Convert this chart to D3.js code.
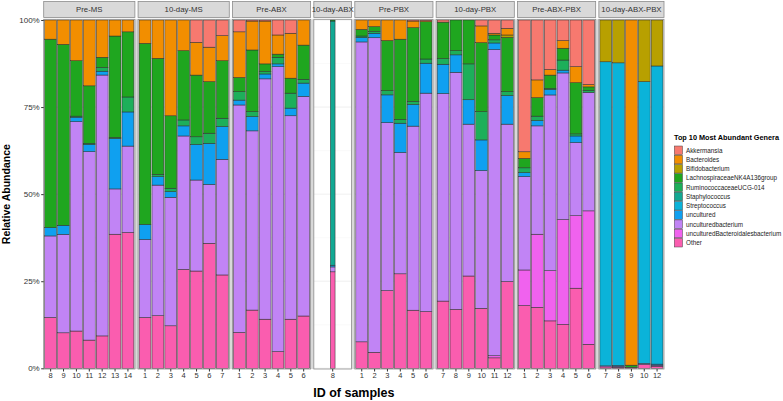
<!DOCTYPE html>
<html>
<head>
<meta charset="utf-8">
<script src="https://cdn.jsdelivr.net/npm/d3@7"></script>
<style>
  body { margin: 0; background: #fff; }
  text { font-family: "Liberation Sans", Arial, sans-serif; }
</style>
</head>
<body>
<script>
// facets and the sample ids inside each one
var groups = ["Pre-MS", "10-day-MS", "Pre-ABX", "10-day-ABX", "Pre-PBX", "10-day-PBX", "Pre-ABX-PBX", "10-day-ABX-PBX"];
var sampleIds = [
  [8, 9, 10, 11, 12, 13, 14],
  [1, 2, 3, 4, 5, 6, 7],
  [1, 2, 3, 4, 5, 6],
  [8],
  [1, 2, 3, 4, 5, 6],
  [7, 8, 9, 10, 11, 12],
  [1, 2, 3, 4, 5, 6],
  [7, 8, 9, 10, 12]
];

var genera = ["Akkermansia", "Bacteroides", "Bifidobacterium", "LachnospiraceaeNK4A136group",
  "RuminococcaceaeUCG-014", "Staphylococcus", "Streptococcus", "uncultured",
  "unculturedbacterium", "unculturedBacteroidalesbacterium", "Other"];
var generaColors = ["#F7796F", "#F28E00", "#B8A000", "#1FA61F", "#1DAF5A", "#12A893",
  "#0BB3D9", "#0FA0F0", "#C184F5", "#F062EE", "#FA5DAF"];

// relative abundance (%) per sample, samples in facet order
//                Pre-MS                              10-day-MS                            Pre-ABX                        10dABX Pre-PBX                       10-day-PBX                      Pre-ABX-PBX                       10-day-ABX-PBX
var akkermansia = [0, 0, 0, 0, 0, 0, 0,               0, 0, 0, 0, 6.4, 7.8, 4.5,             3.4, 0.3, 0.3, 4.3, 3.8, 0,    0,    0, 0, 0, 0, 0.3, 0.2,         0.6, 0, 0, 1.7, 3.8, 2.4,       37.8, 17.2, 14.2, 5.9, 13.4, 18.5, 0, 0, 0, 0, 0];
var bacteroides = [5.5, 7.0, 11.7, 18.9, 10.7, 4.6, 3.4, 6.7, 11.0, 27.5, 8.8, 9.4, 9.9, 7.2, 13.1, 8.3, 12.3, 5.5, 12.9, 7.2, 0, 2.7, 1.9, 5.9, 5.5, 1.9, 0.3, 0, 0, 0, 4.8, 0.5, 1.9,   1.9, 5.1, 1.6, 2.2, 4.6, 0.7,   0, 0, 99.1, 0, 0];
var bifidobacterium = [0, 0, 0, 0, 0, 0, 0,           0, 0, 0, 0, 0, 0, 0,                   0, 0, 0, 0, 0, 0,              0,    0, 0, 0, 0, 0, 0,             0, 0, 0, 0, 0, 0.7,             0, 0, 0, 0, 0, 0,                 12.0, 12.3, 0, 17.7, 13.2];
var lachnospiraceae = [54.1, 52.0, 15.9, 16.5, 2.9, 29.1, 18.7, 52.0, 33.3, 20.8, 19.9, 17.7, 14.8, 16.5, 4.1, 17.7, 2.2, 0.9, 4.3, 9.8, 0.3, 1.9, 1.4, 14.4, 23.0, 21.2, 10.7, 10.5, 8.8, 12.6, 19.8, 1.4, 15.6, 2.7, 5.3, 3.8, 3.4, 14.7, 1.0, 0, 0, 0.6, 0, 0];
var ruminococcaceae = [0, 0, 0.3, 0.3, 1.1, 0.3, 4.3, 0, 0.7, 1.0, 1.7, 2.2, 2.9, 2.4,    2.4, 1.4, 0.7, 1.9, 4.3, 1.1,  0,    0.4, 0.5, 1.2, 1.1, 0.9, 1.2,   1.6, 1.2, 10.3, 8.1, 0.9, 1.1,  1.4, 1.3, 0.3, 2.9, 0.6, 0.6,     0, 0, 0, 0, 0];
var staphylococcus = [0, 0, 0, 0, 0, 0, 0,            0, 0, 0, 0, 0, 0, 0,                   0, 0, 0, 0, 0, 0,              70.1, 0, 0, 0, 0, 0, 0,             0, 0, 0, 0, 0, 0,               0, 0, 0, 0, 0, 0,                 0, 0, 0, 0, 0];
var streptococcus = [0, 0, 0, 0, 0, 0, 0,             0, 0, 0, 0, 0, 0, 0,                   0, 0, 0, 0, 0, 0,              0,    0, 0, 0, 0, 0, 0,             0, 0, 0, 0, 0, 0,               0, 0, 0, 0, 0, 0,                 87.3, 86.9, 0, 80.9, 85.6];
var uncultured = [2.4, 2.6, 1.3, 2.1, 1.1, 14.5, 9.8, 4.3, 2.4, 1.6, 2.9, 10.2, 11.8, 9.4,  1.4, 4.1, 1.4, 0.8, 2.2, 3.8,  0.5,  1.3, 1.3, 8.0, 8.4, 6.2, 8.6,   8.4, 5.0, 7.0, 8.8, 1.9, 8.2,   1.1, 1.5, 1.6, 0.8, 1.9, 0,       0, 0.2, 0, 0, 0.3];
var unculturedBacterium = [23.4, 28.3, 60.1, 54.1, 74.9, 13.0, 24.8, 22.4, 37.5, 36.9, 38.3, 26.1, 16.9, 33.2, 65.3, 51.4, 69.0, 81.8, 58.4, 63.0, 1.4, 86.1, 90.3, 48.2, 34.8, 52.9, 62.7, 59.6, 68.0, 43.6, 39.5, 87.9, 45.2, 26.8, 31.1, 50.4, 42.1, 21.0, 34.0, 0.3, 0.3, 0, 0.3, 0.3];
var unculturedBacteroidales = [0, 0, 0, 0, 0, 0, 0,   0, 0, 0, 0, 0, 0, 0,                   0, 0, 0, 0, 0, 0,              0,    0, 0, 0, 0, 0, 0,             0, 0, 0, 0, 0.6, 0,             10.2, 21.0, 14.4, 30.1, 20.8, 38.3, 0, 0, 0, 0, 0];
var other = [14.6, 10.2, 10.7, 8.1, 9.3, 38.5, 39.0,  14.6, 15.1, 12.2, 28.4, 27.9, 35.9, 26.8, 10.3, 16.7, 14.1, 4.8, 14.1, 15.0, 27.7, 7.6, 4.6, 22.3, 27.1, 16.7, 16.3, 19.3, 16.9, 26.5, 17.2, 3.0, 24.9, 18.0, 17.5, 13.6, 12.6, 23.0, 6.9, 0.4, 0.3, 0.3, 1.1, 0.6];

var seriesValues = [akkermansia, bacteroides, bifidobacterium, lachnospiraceae, ruminococcaceae,
  staphylococcus, streptococcus, uncultured, unculturedBacterium, unculturedBacteroidales, other];

var yTicks = [0, 0.25, 0.5, 0.75, 1];

var width = 783, height = 401;
var plotLeft = 43.7, plotRight = 664, panelTop = 19.3, panelBottom = 369;
var gap = 3.2;

var svg = d3.select("body").append("svg")
  .attr("width", width)
  .attr("height", height);

// one row per sample
var rows = [];
var k = 0;
groups.forEach(function (g, gi) {
  sampleIds[gi].forEach(function (id) {
    var r = { group: g, id: String(id) };
    genera.forEach(function (name, j) { r[name] = seriesValues[j][k]; });
    rows.push(r);
    k++;
  });
});

// ggplot stacks the first legend entry on top
var stackKeys = genera.slice().reverse();
var series = d3.stack().keys(stackKeys).offset(d3.stackOffsetExpand)(rows);
var color = d3.scaleOrdinal().domain(genera).range(generaColors);

var y = d3.scaleLinear().domain([0, 1]).range([368.3, 20]);

// panel widths (space = "free"), the single-sample facet is a bit wider
var units = sampleIds.map(function (s) { return Math.max(s.length, 2.9); });
var unit = (plotRight - plotLeft - gap * (groups.length - 1)) / d3.sum(units);
var panels = [];
var cx = plotLeft;
groups.forEach(function (g, gi) {
  var w = units[gi] * unit;
  var xb = d3.scaleBand().domain(sampleIds[gi].map(String)).range([cx, cx + w])
    .paddingInner(0.08).paddingOuter(0.08);
  panels.push({ name: g, x0: cx, w: w, x: xb, single: sampleIds[gi].length === 1 });
  cx += w + gap;
});
var panelByName = {};
panels.forEach(function (p) { panelByName[p.name] = p; });

// grey between facets
svg.append("rect")
  .attr("x", plotLeft).attr("y", panelTop)
  .attr("width", plotRight - plotLeft).attr("height", panelBottom - panelTop)
  .attr("fill", "#d9d9d9");

var panelG = svg.selectAll("g.panel").data(panels).enter().append("g").attr("class", "panel");

panelG.append("rect")
  .attr("x", function (p) { return p.x0; }).attr("y", panelTop)
  .attr("width", function (p) { return p.w; }).attr("height", panelBottom - panelTop)
  .attr("fill", "#fff");

// minor + major grid
panelG.each(function (p) {
  var g = d3.select(this);
  g.selectAll("line.minor").data([0.125, 0.375, 0.625, 0.875]).enter().append("line")
    .attr("x1", p.x0).attr("x2", p.x0 + p.w)
    .attr("y1", function (d) { return y(d); }).attr("y2", function (d) { return y(d); })
    .attr("stroke", "#f4f4f4").attr("stroke-width", 0.5);
  g.selectAll("line.major").data(yTicks).enter().append("line")
    .attr("x1", p.x0).attr("x2", p.x0 + p.w)
    .attr("y1", function (d) { return y(d); }).attr("y2", function (d) { return y(d); })
    .attr("stroke", "#ebebeb").attr("stroke-width", 0.8);
});

// bars
function barW(p) { return p.single ? unit * 0.36 : p.x.bandwidth(); }
function barX(p, id) { return p.x(id) + (p.x.bandwidth() - barW(p)) / 2; }

svg.append("g").selectAll("g").data(series).enter().append("g")
  .attr("fill", function (s) { return color(s.key); })
  .selectAll("rect")
  .data(function (s) { return s.filter(function (d) { return d[1] - d[0] > 0; }); })
  .enter().append("rect")
  .attr("x", function (d) { var p = panelByName[d.data.group]; return barX(p, d.data.id); })
  .attr("width", function (d) { return barW(panelByName[d.data.group]); })
  .attr("y", function (d) { return y(d[1]); })
  .attr("height", function (d) { return y(d[0]) - y(d[1]); })
  .attr("stroke", "#2b2b2b")
  .attr("stroke-width", 0.5);

// panel borders
svg.selectAll("rect.border").data(panels).enter().append("rect")
  .attr("x", function (p) { return p.x0; }).attr("y", panelTop)
  .attr("width", function (p) { return p.w; }).attr("height", panelBottom - panelTop)
  .attr("fill", "none").attr("stroke", "#8c8c8c").attr("stroke-width", 0.8);

// strips
var strips = svg.selectAll("g.strip").data(panels).enter().append("g");
strips.append("rect")
  .attr("x", function (p) { return p.x0; }).attr("y", 1.5)
  .attr("width", function (p) { return p.w; }).attr("height", 16)
  .attr("fill", "#d9d9d9").attr("stroke", "#8c8c8c").attr("stroke-width", 0.8);
strips.append("text")
  .attr("x", function (p) { return p.x0 + p.w / 2; }).attr("y", 12.4)
  .attr("text-anchor", "middle").attr("font-size", 7.8).attr("font-weight", "normal")
  .attr("fill", "#333")
  .text(function (p) { return p.name; });

// axes
var yAxis = svg.append("g").attr("transform", "translate(" + plotLeft + ",0)")
  .call(d3.axisLeft(y).tickValues(yTicks).tickFormat(d3.format(".0%")).tickSize(2.5).tickPadding(1.5));
yAxis.select(".domain").remove();
yAxis.selectAll("line").attr("stroke", "#333");
yAxis.selectAll("text").attr("font-size", 8).attr("fill", "#333")
  .style("font-family", "Liberation Sans, Arial, sans-serif");

panels.forEach(function (p) {
  var ax = svg.append("g").attr("transform", "translate(0," + panelBottom + ")")
    .call(d3.axisBottom(p.x).tickSize(2.5).tickPadding(1.5));
  ax.select(".domain").remove();
  ax.selectAll("line").attr("stroke", "#333");
  ax.selectAll("text").attr("font-size", 7.5).attr("fill", "#333")
    .style("font-family", "Liberation Sans, Arial, sans-serif");
});

svg.append("text")
  .attr("transform", "translate(10," + ((20 + 368.3) / 2) + ") rotate(-90)")
  .attr("text-anchor", "middle").attr("font-size", 10.5).attr("font-weight", "bold")
  .text("Relative Abundance");

svg.append("text")
  .attr("x", (plotLeft + plotRight) / 2).attr("y", 397)
  .attr("text-anchor", "middle").attr("font-size", 12.5).attr("font-weight", "bold")
  .text("ID of samples");

// legend
var legend = svg.append("g").attr("transform", "translate(674,0)");
legend.append("text").attr("x", 0).attr("y", 139.5)
  .attr("font-size", 7.3).attr("font-weight", "bold").text("Top 10 Most Abundant Genera");
var item = legend.selectAll("g.item").data(genera).enter().append("g")
  .attr("transform", function (d, i) { return "translate(0," + (145.7 + i * 9.24) + ")"; });
item.append("rect").attr("x", 0.3).attr("y", 0.3).attr("width", 8.2).attr("height", 8.6)
  .attr("fill", function (d) { return color(d); })
  .attr("stroke", "#444").attr("stroke-width", 0.5);
item.append("text").attr("x", 12).attr("y", 7)
  .attr("font-size", 6.3).attr("fill", "#222").text(function (d) { return d; });
</script>
</body>
</html>
